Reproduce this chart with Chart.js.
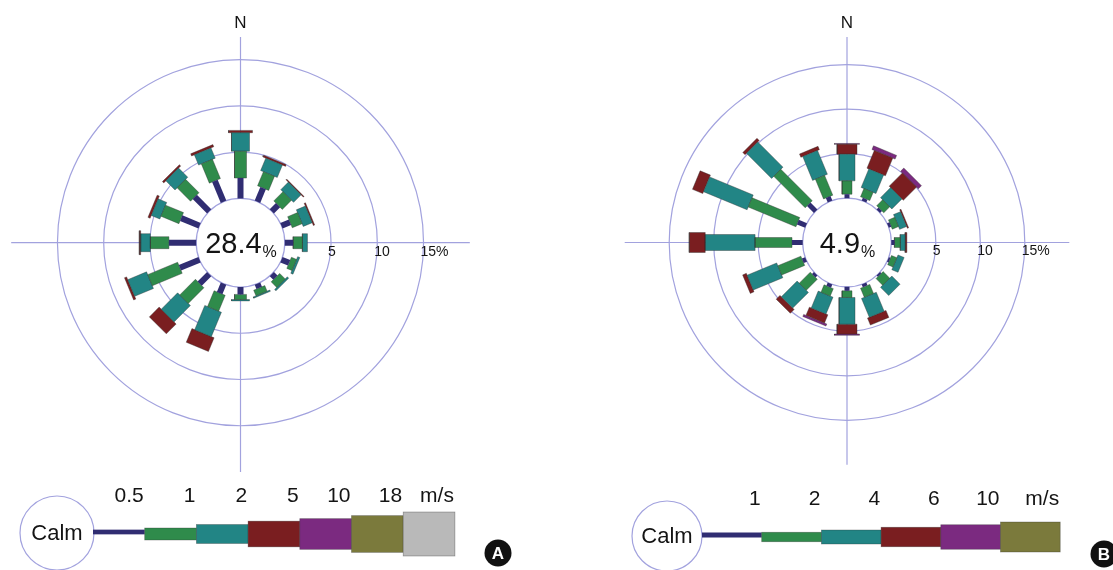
<!DOCTYPE html>
<html>
<head>
<meta charset="utf-8">
<title>Wind rose</title>
<script src="https://cdn.jsdelivr.net/npm/chart.js@4.4.1/dist/chart.umd.min.js"></script>
<style>
  html, body { margin: 0; padding: 0; background: #fff; }
  .panel { position: absolute; top: 0; }
</style>
</head>
<body>
<canvas id="roseA" class="panel" width="556" height="570" style="left:0"></canvas>
<canvas id="roseB" class="panel" width="557" height="570" style="left:556px"></canvas>
<script>
/* ================================
   Data
================================ */
const directions = ["N", "NNE", "NE", "ENE", "E", "ESE", "SE", "SSE",
                    "S", "SSW", "SW", "WSW", "W", "WNW", "NW", "NNW"];
const ringValues = [5, 10, 15];
const ringLabels = ["5", "10", "15%"];
const unitLabel = "m/s";

// Site A: frequency (%) per direction for each speed class
const calmA = 28.4;
const speedTicksA = ["0.5", "1", "2", "5", "10", "18"];
const freqA_lt05  = [2.2, 1.6, 0.95, 1.0, 0.9, 0.9, 0.55, 0.5, 0.8, 1.1, 1.45, 2.3, 2.95, 2.15, 2.2, 2.45];
const freqA_05_1  = [2.9, 1.65, 1.4, 1.15, 1.0, 0.6, 0.85, 0.65, 0.55, 1.85, 2.4, 3.5, 2.0, 2.1, 2.05, 2.25];
const freqA_1_2   = [2.0, 1.45, 1.15, 1.05, 0.55, 0.25, 0.2, 0.15, 0.15, 2.85, 2.5, 2.2, 1.05, 1.0, 1.4, 1.2];
const freqA_2_5   = [0.25, 0.2, 0.1, 0.15, 0, 0, 0, 0, 0, 1.6, 1.5, 0.25, 0.15, 0.25, 0.2, 0.25];
const freqA_5_10  = [0, 0, 0, 0, 0, 0, 0, 0, 0, 0, 0, 0, 0, 0, 0, 0];
const freqA_10_18 = [0, 0, 0, 0, 0, 0, 0, 0, 0, 0, 0, 0, 0, 0, 0, 0];
const freqA_gt18  = [0, 0, 0, 0, 0, 0, 0, 0, 0, 0, 0, 0, 0, 0, 0, 0];

// Site B
const calmB = 4.9;
const speedTicksB = ["1", "2", "4", "6", "10"];
const freqB_lt1  = [0.45, 0.35, 0.3, 0.3, 0.35, 0.2, 0.2, 0.35, 0.45, 0.4, 0.3, 0.4, 1.2, 1.0, 1.1, 0.55];
const freqB_1_2  = [1.5, 1.0, 0.95, 0.75, 0.65, 0.65, 1.05, 1.1, 0.75, 0.9, 1.75, 2.8, 4.15, 5.8, 5.0, 2.4];
const freqB_2_4  = [3.0, 2.25, 1.6, 0.85, 0.55, 0.75, 1.3, 2.3, 3.0, 2.05, 2.5, 3.6, 5.6, 5.3, 4.0, 2.9];
const freqB_4_6  = [1.1, 2.15, 2.1, 0.15, 0.2, 0, 0, 0.85, 1.1, 1.0, 0.6, 0.45, 1.8, 1.25, 0.35, 0.4];
const freqB_6_10 = [0.1, 0.45, 0.5, 0, 0, 0, 0, 0, 0.15, 0.25, 0, 0, 0, 0, 0, 0];
const freqB_gt10 = [0, 0, 0, 0, 0, 0, 0, 0, 0, 0, 0, 0, 0, 0, 0, 0];

/* ================================
   Styles
================================ */
const FONT = "'Liberation Sans', Arial, sans-serif";
const gridColor = "#a2a2de";
const textColor = "#141414";
const classColors = ["#302d72", "#2f8b4b", "#228585", "#7a1e20", "#7b2a80", "#7b7a3c", "#b9b9b9"];

const panelA = {
  canvas: "roseA", left: 0, width: 556, badge: "A",
  calm: calmA, ticks: speedTicksA,
  classes: [freqA_lt05, freqA_05_1, freqA_1_2, freqA_2_5, freqA_5_10, freqA_10_18, freqA_gt18],
  colors: classColors,
  barWidths: [6, 12, 18, 24, 30, 36, 42],
  center: [240.5, 242.7], pxPerPct: 9.25, calmPx: 44.3,
  legend: { calmX: 57, calmR: 37, y: 534, start: 93, step: 51.7,
            heights: [4.7, 12, 19, 25.7, 30.7, 36.7, 44], labelY: 496 },
  badgeAt: [498, 553]
};

const panelB = {
  canvas: "roseB", left: 556, width: 557, badge: "B",
  calm: calmB, ticks: speedTicksB,
  classes: [freqB_lt1, freqB_1_2, freqB_2_4, freqB_4_6, freqB_6_10, freqB_gt10],
  colors: classColors.slice(0, 6),
  barWidths: [5, 10, 16, 20, 25, 30],
  center: [847, 242.5], pxPerPct: 8.9, calmPx: 44.3,
  legend: { calmX: 667, calmR: 35, y: 537, start: 702, step: 59.7,
            heights: [5, 9.5, 14, 19.5, 24.5, 30], labelY: 499 },
  badgeAt: [1104, 554]
};

/* ================================
   Rose segments (one closed polygon per class and direction)
================================ */
function buildSegments(p, calmOff) {
  const k = p.pxPerPct;
  const datasets = [];

  directions.forEach((dir, d) => {
    const a = d * 22.5 * Math.PI / 180;
    const ux = Math.sin(a), uy = Math.cos(a);
    const nx = uy, ny = -ux;
    let r = calmOff;

    p.classes.forEach((vals, c) => {
      const v = vals[d];
      if (!v) return;
      const hw = p.barWidths[c] / 2 / k;
      const r2 = r + v;
      datasets.push({
        label: dir,
        data: [
          { x: ux * r + nx * hw,  y: uy * r + ny * hw },
          { x: ux * r2 + nx * hw, y: uy * r2 + ny * hw },
          { x: ux * r2 - nx * hw, y: uy * r2 - ny * hw },
          { x: ux * r - nx * hw,  y: uy * r - ny * hw },
          { x: ux * r + nx * hw,  y: uy * r + ny * hw }
        ],
        backgroundColor: p.colors[c],
        borderColor: c === 0 ? p.colors[0] : "rgba(45,45,45,0.55)",
        borderWidth: c === 0 ? 0 : 0.7,
        fill: "shape",
        pointRadius: 0,
        tension: 0
      });
      r = r2;
    });
  });
  return datasets;
}

/* ================================
   Legend and badge
================================ */
function drawLegend(ctx, p) {
  const L = p.legend;
  const off = p.left;

  ctx.beginPath();
  ctx.arc(L.calmX - off, L.y - 1, L.calmR, 0, Math.PI * 2);
  ctx.fillStyle = "#fff";
  ctx.fill();
  ctx.strokeStyle = gridColor;
  ctx.lineWidth = 1.2;
  ctx.stroke();

  ctx.fillStyle = textColor;
  ctx.font = "22px " + FONT;
  ctx.textAlign = "center";
  ctx.textBaseline = "middle";
  ctx.fillText("Calm", L.calmX - off, L.y);

  p.colors.forEach((col, c) => {
    const x0 = L.start + c * L.step - off;
    const h = L.heights[c];
    const yc = c === 0 ? L.y - 2 : L.y;
    ctx.fillStyle = col;
    ctx.fillRect(x0, yc - h / 2, L.step, h);
    if (c > 0) {
      ctx.strokeStyle = "rgba(45,45,45,0.45)";
      ctx.lineWidth = 0.7;
      ctx.strokeRect(x0, yc - h / 2, L.step, h);
    }
  });

  ctx.fillStyle = textColor;
  ctx.font = "21px " + FONT;
  ctx.textAlign = "right";
  ctx.textBaseline = "middle";
  p.ticks.forEach((t, i) => {
    ctx.fillText(t, L.start + (i + 1) * L.step - off - 1, L.labelY);
  });
  ctx.fillText(unitLabel, L.start + p.colors.length * L.step - off - 1, L.labelY);

  // panel badge
  const [bx, by] = p.badgeAt;
  ctx.beginPath();
  ctx.arc(bx - off, by, 13.5, 0, Math.PI * 2);
  ctx.fillStyle = "#111";
  ctx.fill();
  ctx.fillStyle = "#fff";
  ctx.font = "bold 17px " + FONT;
  ctx.textAlign = "center";
  ctx.fillText(p.badge, bx - off, by + 1);
}

/* ================================
   Chart
================================ */
function makeRose(p) {
  const k = p.pxPerPct;
  const calmOff = p.calmPx / k;
  const H = 570;
  const cx = p.center[0] - p.left;
  const cy = p.center[1];

  const frame = {
    id: "roseFrame",
    beforeDatasetsDraw(chart) {
      const ctx = chart.ctx;
      const xs = chart.scales.x, ys = chart.scales.y;
      const ox = xs.getPixelForValue(0), oy = ys.getPixelForValue(0);
      const rad = v => xs.getPixelForValue(v) - ox;
      const reach = rad(calmOff + 20);

      ctx.save();
      ctx.strokeStyle = gridColor;
      ctx.lineWidth = 1.2;
      ctx.beginPath();
      ctx.moveTo(ox - reach, oy);
      ctx.lineTo(ox + reach, oy);
      ctx.moveTo(ox, 37);
      ctx.lineTo(ox, oy + reach);
      ctx.stroke();

      ringValues.forEach(v => {
        ctx.beginPath();
        ctx.arc(ox, oy, rad(calmOff + v), 0, Math.PI * 2);
        ctx.stroke();
      });

      ctx.beginPath();
      ctx.arc(ox, oy, rad(calmOff), 0, Math.PI * 2);
      ctx.fillStyle = "#fff";
      ctx.fill();
      ctx.stroke();
      ctx.restore();
    },
    afterDatasetsDraw(chart) {
      const ctx = chart.ctx;
      const xs = chart.scales.x, ys = chart.scales.y;
      const ox = xs.getPixelForValue(0), oy = ys.getPixelForValue(0);

      ctx.save();
      ctx.fillStyle = textColor;

      // ring labels along the east axis
      ctx.font = "14px " + FONT;
      ctx.textAlign = "left";
      ctx.textBaseline = "middle";
      ringValues.forEach((v, i) => {
        const x = xs.getPixelForValue(calmOff + v);
        ctx.fillText(ringLabels[i], x - 3, oy + 9);
      });

      // north marker
      ctx.font = "17px " + FONT;
      ctx.textAlign = "center";
      ctx.fillText("N", ox, 23);

      // calm percentage in the centre
      const big = p.calm.toFixed(1);
      ctx.font = "29px " + FONT;
      const wBig = ctx.measureText(big).width;
      ctx.font = "16px " + FONT;
      const wPct = ctx.measureText("%").width;
      const x0 = ox - (wBig + wPct) / 2;
      ctx.textAlign = "left";
      ctx.textBaseline = "alphabetic";
      ctx.font = "29px " + FONT;
      ctx.fillText(big, x0, oy + 10.5);
      ctx.font = "16px " + FONT;
      ctx.fillText("%", x0 + wBig + 1, oy + 14);

      drawLegend(ctx, p);
      ctx.restore();
    }
  };

  new Chart(document.getElementById(p.canvas), {
    type: "line",
    data: { datasets: buildSegments(p, calmOff) },
    options: {
      responsive: false,
      animation: false,
      events: [],
      layout: { padding: 0 },
      scales: {
        x: { type: "linear", display: false, min: -cx / k, max: (p.width - cx) / k },
        y: { type: "linear", display: false, min: -(H - cy) / k, max: cy / k }
      },
      plugins: {
        legend: { display: false },
        tooltip: { enabled: false }
      }
    },
    plugins: [frame]
  });
}

document.addEventListener("DOMContentLoaded", () => {
  makeRose(panelA);
  makeRose(panelB);
});
</script>
</body>
</html>
